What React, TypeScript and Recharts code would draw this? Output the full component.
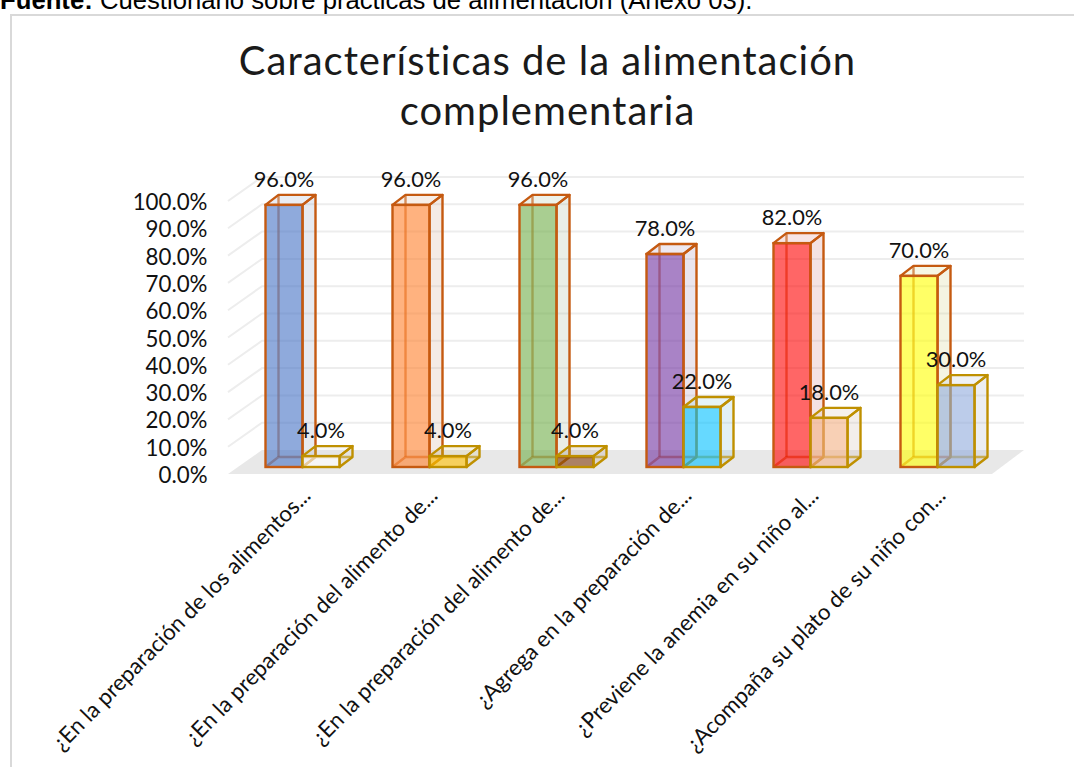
import { Bar, BarChart, CartesianGrid, LabelList, XAxis, YAxis } from 'recharts';

const categories = [
  '¿En la preparación de los alimentos...',
  '¿En la preparación del alimento de...',
  '¿En la preparación del alimento de...',
  '¿Agrega en la preparación de...',
  '¿Previene la anemia en su niño al...',
  '¿Acompaña su plato de su niño con...',
];
const siValues = [96, 96, 96, 78, 82, 70];
const noValues = [4, 4, 4, 22, 18, 30];
const yTicks = [0, 10, 20, 30, 40, 50, 60, 70, 80, 90, 100];

const siColors = ['#4472C4', '#FF7F2A', '#70AD47', '#7030A0', '#FF0000', '#FFFF00'];
const noColors = ['#FFFFFF', '#FFC000', '#843C0C', '#00C0FF', '#F4B183', '#8FAADC'];

const chartData = categories.map((category, i) => ({
  id: i,
  category,
  si: siValues[i],
  no: noValues[i],
}));

const FONT = 'Lato, "Open Sans", sans-serif';
const DEPTH_X = 13;
const DEPTH_Y = 10;
const BAR_LIFT = 7;
const GRID_COLOR = '#EDEDED';

function Box3D(props: any, colors: string[], edge: string) {
  const { x, y, width, height, index } = props;
  const fill = colors[index];
  const left = x;
  const right = x + width;
  const top = y - BAR_LIFT;
  const bottom = top + height;
  const bx = DEPTH_X;
  const by = DEPTH_Y;
  const side = `M${right} ${top}L${right + bx} ${top - by}V${bottom - by}L${right} ${bottom}Z`;
  const lid = `M${left} ${top}L${left + bx} ${top - by}H${right + bx}L${right} ${top}Z`;
  return (
    <g>
      <path d={side} fill="#C8C8C8" fillOpacity={0.2} stroke="none" />
      <path d={lid} fill="#C8C8C8" fillOpacity={0.15} stroke="none" />
      <path d={side} fill={fill} fillOpacity={0.07} stroke={edge} strokeWidth={2.4} strokeLinejoin="round" />
      <path d={lid} fill={fill} fillOpacity={0.07} stroke={edge} strokeWidth={2.4} strokeLinejoin="round" />
      <g stroke={edge} strokeWidth={2.4} strokeOpacity={0.65} fill="none">
        <path d={`M${left + bx} ${bottom - by}V${top - by}`} />
        <path d={`M${left} ${bottom}L${left + bx} ${bottom - by}H${right + bx}`} />
      </g>
      <rect
        x={left}
        y={top}
        width={width}
        height={height}
        fill={fill}
        fillOpacity={0.6}
        stroke={edge}
        strokeWidth={2.4}
      />
    </g>
  );
}

// grid line bent along the left wall and the back wall, floor under the zero line
function WallLine(props: any) {
  const { x1, x2, y1, index } = props;
  const isZero = y1 > 470;
  return (
    <g key={`wall-${index}`}>
      {isZero && (
        <polygon
          points={`${x1 - 10.5},${y1} ${x1 + 23.5},${y1 - 24} ${x2 + 23.5},${y1 - 24} ${x2 - 8.5},${y1}`}
          fill="#E8E8E8"
        />
      )}
      {!isZero && (
        <path
          d={`M${x1 - 10.5} ${y1}L${x1 + 23.5} ${y1 - 24}H${x2 + 23.5}`}
          fill="none"
          stroke={GRID_COLOR}
          strokeWidth={2}
        />
      )}
    </g>
  );
}

function CategoryTick({ x, y, payload }: any) {
  return (
    <text
      transform={`translate(${x + 10} ${y + 15}) rotate(-45.5)`}
      textAnchor="end"
      fontFamily={FONT}
      fontSize={22.3}
      fill="#111"
    >
      {payload.value}
    </text>
  );
}

function ValueTick({ x, y, payload }: any) {
  return (
    <text x={x} y={y + 9} textAnchor="end" fontFamily={FONT} fontSize={22.3} fill="#111">
      {`${payload.value.toFixed(1)}%`}
    </text>
  );
}

export default function App() {
  return (
    <div
      style={{
        position: 'absolute',
        left: 0,
        top: 0,
        width: 1074,
        height: 767,
        overflow: 'hidden',
        background: '#fff',
      }}
    >
      <div
        style={{
          position: 'absolute',
          left: 0,
          top: -15.5,
          whiteSpace: 'nowrap',
          fontFamily: '"Liberation Sans", Arial, sans-serif',
          fontSize: 25.7,
          lineHeight: '30px',
          color: '#000',
        }}
      >
        <b>Fuente:</b> Cuestionario sobre prácticas de alimentación (Anexo 03).
      </div>
      <div
        style={{
          position: 'absolute',
          left: 10,
          top: 14,
          width: 1074,
          height: 767,
          borderLeft: '2px solid #D9D9D9',
          borderTop: '2px solid #D9D9D9',
        }}
      />
      <div
        style={{
          position: 'absolute',
          left: 147.5,
          width: 800,
          top: 35,
          textAlign: 'center',
          fontFamily: FONT,
          fontSize: 40,
          letterSpacing: 1,
          lineHeight: '50px',
          color: '#1A1A1A',
        }}
      >
        Características de la alimentación
        <br />
        complementaria
      </div>
      <BarChart
        width={1074}
        height={767}
        data={chartData}
        margin={{ top: 201, right: 73.5, bottom: 0, left: 0 }}
        barGap={0}
        style={{ position: 'absolute', left: 0, top: 0 }}
      >
        <CartesianGrid vertical={false} horizontal={WallLine} />
        <XAxis
          dataKey="id"
          height={293}
          interval={0}
          axisLine={false}
          tickLine={false}
          tick={(p: any) => (
            <CategoryTick {...p} payload={{ value: categories[p.payload.value] }} />
          )}
        />
        <YAxis
          width={238.5}
          domain={[0, 100]}
          ticks={yTicks}
          interval={0}
          axisLine={false}
          tickLine={false}
          tickSize={0}
          tickMargin={31}
          tick={ValueTick}
        />
        <Bar
          dataKey="si"
          barSize={37}
          isAnimationActive={false}
          shape={(p: any) => Box3D(p, siColors, '#C55A11')}
        >
          <LabelList
            dataKey="si"
            position="top"
            offset={25}
            formatter={(v: any) => `${Number(v).toFixed(1)}%`}
            fontFamily={FONT}
            fontSize={21.8}
            fill="#111"
          />
        </Bar>
        <Bar
          dataKey="no"
          barSize={37}
          isAnimationActive={false}
          shape={(p: any) => Box3D(p, noColors, '#BF9000')}
        >
          <LabelList
            dataKey="no"
            position="top"
            offset={25}
            formatter={(v: any) => `${Number(v).toFixed(1)}%`}
            fontFamily={FONT}
            fontSize={21.8}
            fill="#111"
          />
        </Bar>
      </BarChart>
    </div>
  );
}
